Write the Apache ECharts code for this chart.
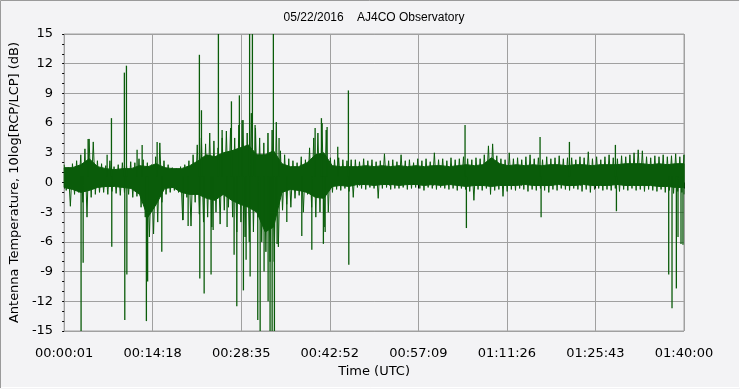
<!DOCTYPE html>
<html>
<head>
<meta charset="utf-8">
<script src="https://cdn.jsdelivr.net/npm/echarts@6/dist/echarts.min.js"></script>
<style>
html,body{margin:0;padding:0;background:#f3f3f5;}
#chart{width:740px;height:389px;}
</style>
</head>
<body>
<div id="chart"></div>
<script>
// ---- data ----
const chartTitle = '05/22/2016    AJ4CO Observatory';
const xAxisName = 'Time (UTC)';
const yAxisName = 'Antenna Temperature, 10log[RCP/LCP] (dB)';
const xTickLabels = ['00:00:01','00:14:18','00:28:35','00:42:52','00:57:09','01:11:26','01:25:43','01:40:00'];
const xTickStep = 857;          // seconds between labelled ticks
const xMax = 5999;              // elapsed seconds at 01:40:00
const yTicks = [-15,-12,-9,-6,-3,0,3,6,9,12,15];
const spikeBase = 0.6;          // centre of the noise band, dB

// dense core of the signal (dB), one value per ~81 s
const coreStep = 81.07;
const coreHigh = [
 1.5,1.5,1.8,2.4,1.6,1.4,1.3,1.4,1.4,1.7,
 1.6,1.9,1.5,1.4,1.4,1.7,2.2,2.8,2.6,3.0,
 3.2,3.5,3.8,2.8,2.8,3.2,1.9,1.6,1.6,2.0,
 2.8,3.0,1.7,1.6,1.6,1.6,1.7,1.6,1.7,1.6,
 1.7,1.6,1.7,1.6,1.7,1.7,1.6,1.7,1.8,1.7,
 1.8,2.5,1.9,1.7,1.8,1.7,1.8,1.7,1.8,1.8,
 1.7,1.8,1.8,1.7,1.8,1.8,1.8,1.9,1.9,1.9,
 1.8,1.9,1.8,1.9,1.9
];
const coreLow = [
 -0.5,-0.7,-1.0,-0.8,-0.5,-0.4,-0.4,-0.5,-0.6,-1.2,
 -3.5,-2.2,-0.6,-0.5,-1.0,-1.2,-1.2,-1.6,-1.8,-1.2,
 -1.8,-2.2,-2.5,-3.0,-5.0,-4.5,-1.0,-0.7,-0.8,-1.0,
 -1.5,-1.6,-0.4,-0.3,-0.4,-0.2,-0.2,-0.3,-0.2,-0.2,
 -0.3,-0.2,-0.2,-0.3,-0.2,-0.3,-0.2,-0.3,-0.4,-0.3,
 -0.3,-0.4,-0.3,-0.3,-0.3,-0.2,-0.3,-0.3,-0.3,-0.2,
 -0.3,-0.3,-0.2,-0.3,-0.3,-0.3,-0.2,-0.3,-0.3,-0.3,
 -0.3,-0.4,-0.4,-0.5,-0.5
];

// fringe of noise tips (dB), one value per ~40 s
const tipStep = 40.26;
const tipHigh = [
 1.8,1.5,1.9,2.2,2.8,3.4,4.4,4.1,2.2,1.9,
 1.7,2.2,1.6,1.8,2.0,1.7,2.1,2.0,2.4,2.3,
 2.0,1.8,2.6,4.0,2.2,1.8,1.5,1.4,1.6,1.8,
 2.2,2.8,3.8,4.5,3.9,5.0,4.2,3.5,4.5,5.2,
 5.5,4.5,5.8,6.3,5.0,7.0,5.5,4.5,4.0,5.0,
 5.3,6.1,3.2,2.8,2.4,2.2,2.0,2.6,2.3,3.5,
 4.5,5.0,6.0,5.3,2.5,2.3,2.5,2.3,2.2,2.3,
 2.3,2.1,2.4,2.2,2.3,2.1,2.2,2.9,2.2,2.3,
 2.1,2.8,2.2,2.3,2.0,2.4,2.2,2.4,2.1,3.0,
 2.3,2.4,2.2,2.5,2.3,2.4,2.6,2.4,2.3,2.5,
 2.4,2.8,3.7,3.9,2.7,2.4,2.3,3.0,2.4,2.5,
 2.3,2.6,2.8,2.4,2.5,2.3,2.6,2.4,2.5,2.7,
 2.4,2.5,2.5,2.3,2.6,2.5,3.1,2.4,2.6,2.3,
 2.6,2.8,2.5,2.4,2.7,2.6,2.8,3.0,3.3,3.2,
 2.6,2.5,2.7,2.6,2.8,2.6,2.7,2.9,2.6,2.8
];
const tipLow = [
 -0.8,-2.4,-1.2,-1.0,-2.0,-3.5,-1.5,-1.2,-1.0,-1.0,
 -1.2,-0.9,-1.1,-1.3,-1.0,-1.2,-1.5,-1.4,-2.5,-3.5,
 -5.5,-5.2,-4.0,-2.0,-1.2,-1.0,-0.8,-1.0,-3.8,-1.5,
 -4.4,-2.0,-3.2,-4.0,-3.5,-4.5,-3.0,-4.2,-2.8,-2.5,
 -3.5,-5.0,-4.0,-5.5,-6.0,-5.0,-3.5,-6.0,-7.0,-8.0,
 -8.0,-6.5,-2.8,-2.2,-2.5,-1.6,-1.3,-3.0,-1.2,-2.5,
 -3.5,-3.0,-4.5,-3.0,-1.0,-0.7,-0.8,-0.6,-0.9,-1.5,
 -0.5,-0.6,-0.7,-0.5,-0.6,-1.6,-0.6,-0.5,-0.7,-0.6,
 -0.6,-0.5,-0.7,-0.6,-0.5,-0.6,-0.8,-0.5,-0.6,-0.7,
 -0.5,-0.6,-0.7,-0.6,-0.8,-0.6,-0.7,-0.9,-1.8,-0.7,
 -0.8,-0.6,-1.2,-0.8,-0.7,-1.4,-0.9,-0.7,-0.8,-0.6,
 -0.7,-0.9,-0.7,-0.8,-0.6,-0.8,-1.0,-0.7,-0.8,-0.6,
 -0.7,-0.8,-0.6,-0.7,-0.9,-0.7,-1.0,-0.7,-0.6,-0.8,
 -0.7,-0.8,-0.6,-0.9,-0.7,-0.8,-0.6,-0.8,-0.7,-0.9,
 -0.7,-0.8,-0.9,-0.7,-1.0,-0.8,-1.1,-0.9,-1.0,-1.2
];
// isolated spikes: elapsed seconds and peak value (dB)
const spikeTimes  = [164,184,232,416,458,461,583,587,603,607,706,755,796,808,900,945,1151,1200,1309,1313,1329,1355,1422,1442,1493,1529,1577,1619,1645,1671,1696,1722,1735,1761,1795,1800,1822,1848,1874,1897,1935,1974,1993,2013,2025,2035,2061,2080,2155,2300,2397,2429,2490,2509,2526,2545,2648,2751,2755,3880,3893,4606,4616,4890,5335,5345,5851,5883,5925,5941,5970,5989];
const spikeValues = [-16,-8.1,4.4,2.8,6.5,-6.5,11.1,-13.9,11.8,-9.3,3.3,3.8,-14,-10,4.1,-7,-3.8,-4.4,12.9,-9.7,7.3,-11.2,-9.3,-4.8,16,5.3,-4.5,8.2,-7.3,-12.5,8.8,6.3,-10.9,-7.8,16,-9.5,16,5.8,-13.9,-16,-9,-12,-16,-16,16,-16,-6.2,4.5,-4,-5.4,-6.8,5.5,6.5,-6.2,-5.0,5.6,3.6,9.3,-8.3,5.8,-4.6,4.6,-3.5,4.1,3.8,-2.9,-9.3,-12.7,-10.7,-5.5,-6.2,-6.3];

// ---- build series data ----
const coreData = coreHigh.map((h, i) => [i * coreStep, h, coreLow[i]]);
const tipTrace = [];
tipHigh.forEach((h, i) => {
  tipTrace.push([Math.min(xMax, i * tipStep), h]);
  tipTrace.push([Math.min(xMax, i * tipStep + tipStep / 2), tipLow[i]]);
});
const spikeData = spikeTimes.map((t, i) => [t, spikeValues[i]]);

const green = '#0a5c0a';

function clampY(p, cs) {
  return Math.max(cs.y, Math.min(cs.y + cs.height, p));
}

const chart = echarts.init(document.getElementById('chart'), null, {renderer: 'canvas'});
const axisFont = 'DejaVu Sans';
chart.setOption({
  animation: false,
  backgroundColor: '#f3f3f5',
  graphic: [
    {type: 'polyline', shape: {points: [[0.5, 388], [0.5, 0.5], [739, 0.5]]}, style: {stroke: '#9a9a9a', fill: null, lineWidth: 1}},
    {type: 'polyline', shape: {points: [[1, 387.5], [739.5, 387.5], [739.5, 1]]}, style: {stroke: '#ffffff', fill: null, lineWidth: 1}},
    {type: 'text', x: 374, y: 18, style: {text: chartTitle, textAlign: 'center', textVerticalAlign: 'middle', font: '12px "Liberation Sans"', fill: '#000'}}
  ],
  grid: {left: 64, right: 56, top: 34, bottom: 58, show: true, borderColor: '#a0a0a0', borderWidth: 1, backgroundColor: 'transparent'},
  xAxis: {
    type: 'value', min: 0, max: xMax, interval: xTickStep, offset: 5,
    name: xAxisName, nameLocation: 'middle', nameGap: 28,
    nameTextStyle: {fontFamily: axisFont, fontSize: 13, color: '#000'},
    axisLine: {show: false},
    axisTick: {show: true, length: 6, lineStyle: {color: '#000'}},
    minorTick: {show: true, splitNumber: 6, length: 3, lineStyle: {color: '#000'}},
    splitLine: {show: true, lineStyle: {color: '#a0a0a0', width: 1}},
    axisLabel: {margin: 11, fontFamily: axisFont, fontSize: 13, color: '#000',
      formatter: v => xTickLabels[Math.round(v / xTickStep)]}
  },
  yAxis: {
    type: 'value', min: yTicks[0], max: yTicks[yTicks.length - 1], interval: 3, offset: 5,
    name: yAxisName, nameLocation: 'middle', nameGap: 32,
    nameTextStyle: {fontFamily: axisFont, fontSize: 13, color: '#000'},
    axisLine: {show: false},
    axisTick: {show: true, length: 2, lineStyle: {color: '#000'}},
    minorTick: {show: true, splitNumber: 3, length: 2, lineStyle: {color: '#000'}},
    splitLine: {show: true, lineStyle: {color: '#a0a0a0', width: 1}},
    axisLabel: {margin: 6, fontFamily: axisFont, fontSize: 13, color: '#000'}
  },
  series: [{
    // dense core drawn as one polygon through the axis scales
    type: 'custom',
    data: [coreData[0]],
    encode: {x: 0, y: [1, 2]},
    renderItem: function (params, api) {
      const pts = [];
      coreData.forEach(d => pts.push(api.coord([d[0], d[1]])));
      for (let i = coreData.length - 1; i >= 0; i--) pts.push(api.coord([coreData[i][0], coreData[i][2]]));
      return {type: 'polygon', shape: {points: pts}, style: {fill: green, stroke: green, lineWidth: 1}};
    },
    silent: true
  }, {
    // fringe of noise tips
    type: 'line', data: tipTrace, showSymbol: false, symbol: 'none', clip: true, sampling: null,
    lineStyle: {color: green, width: 1},
    silent: true
  }, {
    type: 'custom',
    data: spikeData,
    encode: {x: 0, y: 1},
    renderItem: function (params, api) {
      const cs = params.coordSys;
      const top = api.coord([api.value(0), api.value(1)]);
      const base = api.coord([api.value(0), spikeBase]);
      return {type: 'line', shape: {x1: top[0], y1: clampY(base[1], cs), x2: top[0], y2: clampY(top[1], cs)},
        style: {stroke: green, lineWidth: 1.3}};
    },
    silent: true
  }]
});
</script>
</body>
</html>
